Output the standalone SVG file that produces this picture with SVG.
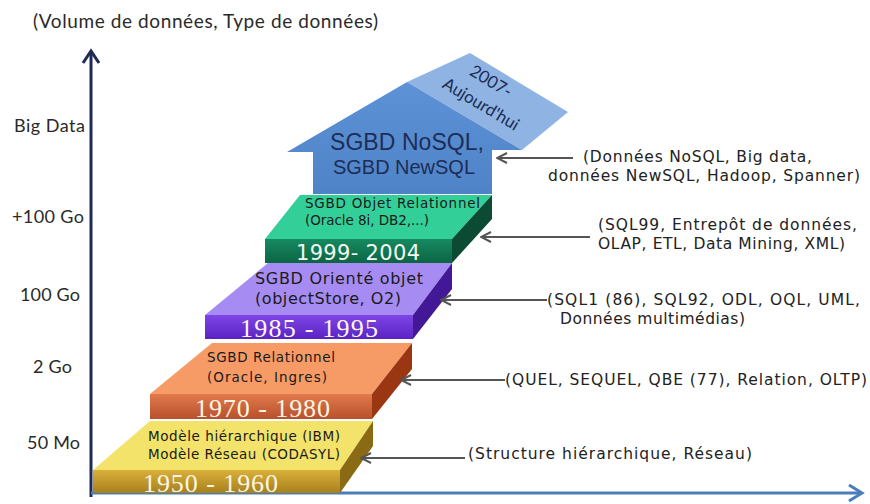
<svg xmlns="http://www.w3.org/2000/svg" width="870" height="504" viewBox="0 0 870 504">
<defs>
<style>
.lbl{font-family:Lato,"Open Sans","Liberation Sans",sans-serif;font-size:18px;fill:#2a2a2a}
.note{font-family:"DejaVu Sans","Liberation Sans",sans-serif;font-size:15.5px;fill:#222}
.top{font-family:"DejaVu Sans","Liberation Sans",sans-serif;font-size:13.5px;fill:#1a1a1a}
.year{font-family:"Liberation Serif","DejaVu Serif",serif;font-size:26px;fill:#fbf6e4}
.conn{stroke:#555;stroke-width:2;fill:none;marker-end:url(#chev)}
</style>
<marker id="chev" viewBox="0 0 12 12" refX="11" refY="6" markerWidth="12" markerHeight="12" markerUnits="userSpaceOnUse" orient="auto">
<path d="M1,1 L11,6 L1,11" fill="none" stroke="#555" stroke-width="2"/>
</marker>
<linearGradient id="gY" x1="0" y1="0" x2="0" y2="1"><stop offset="0" stop-color="#d9b03a"/><stop offset="1" stop-color="#a8801c"/></linearGradient>
<linearGradient id="gO" x1="0" y1="0" x2="0" y2="1"><stop offset="0" stop-color="#e07a4c"/><stop offset="1" stop-color="#b8502c"/></linearGradient>
<linearGradient id="gP" x1="0" y1="0" x2="0" y2="1"><stop offset="0" stop-color="#7f45e6"/><stop offset="1" stop-color="#5a22c4"/></linearGradient>
<linearGradient id="gG" x1="0" y1="0" x2="0" y2="1"><stop offset="0" stop-color="#168a60"/><stop offset="1" stop-color="#0c6444"/></linearGradient>
<linearGradient id="gB" x1="0" y1="0" x2="0" y2="1"><stop offset="0" stop-color="#5d92d6"/><stop offset="1" stop-color="#4f83c8"/></linearGradient>
</defs>
<rect width="870" height="504" fill="#fff"/>

<text class="lbl" x="33" y="28" style="font-size:19px" textLength="345">(Volume de données, Type de données)</text>

<g id="axes">
<line x1="91" y1="497" x2="91" y2="52" stroke="#1f2a55" stroke-width="3"/>
<path d="M83,63 L91,51 L99,63" fill="none" stroke="#1f2a55" stroke-width="3"/>
<line x1="91" y1="493" x2="861" y2="493" stroke="#4a7ebb" stroke-width="3"/>
<path d="M849,485 L862,493 L849,501" fill="none" stroke="#4a7ebb" stroke-width="3"/>
</g>

<g id="ylabels">
<text class="lbl" x="14" y="132" textLength="71">Big Data</text>
<text class="lbl" x="12" y="223" textLength="72">+100 Go</text>
<text class="lbl" x="20" y="301" textLength="60">100 Go</text>
<text class="lbl" x="33" y="373" textLength="39">2 Go</text>
<text class="lbl" x="27" y="449" textLength="53">50 Mo</text>
</g>

<g id="step1950">
<polygon points="93,470 340,470 373,421 150,421" fill="#f3e36a"/>
<rect x="93" y="470" width="247" height="23" fill="url(#gY)"/>
<polygon points="340,470 373,421 373,446 340,493" fill="#8a6a12"/>
<text class="top" x="148" y="441" textLength="192">Modèle hiérarchique (IBM)</text>
<text class="top" x="148" y="459" textLength="192">Modèle Réseau (CODASYL)</text>
<text class="year" x="143" y="492" textLength="135">1950 - 1960</text>
</g>

<g id="step1970">
<polygon points="150,394 372,394 412,343 212,343" fill="#f79b66"/>
<rect x="150" y="394" width="222" height="25" fill="url(#gO)"/>
<polygon points="372,394 412,343 412,369 372,419" fill="#9a3612"/>
<text class="top" x="207" y="362" textLength="128">SGBD Relationnel</text>
<text class="top" x="207" y="382" textLength="120">(Oracle, Ingres)</text>
<text class="year" x="195" y="417" textLength="135">1970 - 1980</text>
</g>

<g id="step1985">
<polygon points="205,315 413,315 452,263 268,263" fill="#a68cf2"/>
<rect x="205" y="315" width="208" height="24" fill="url(#gP)"/>
<polygon points="413,315 452,263 452,289 413,339" fill="#431896"/>
<text class="top" x="255" y="284" style="font-size:16px" textLength="168">SGBD Orienté objet</text>
<text class="top" x="255" y="304" style="font-size:16px" textLength="146">(objectStore, O2)</text>
<text class="year" x="240" y="337" textLength="138">1985 - 1995</text>
</g>

<g id="step1999">
<polygon points="265,239 452,239 492,195 300,195" fill="#33cf99"/>
<rect x="265" y="239" width="187" height="24" fill="url(#gG)"/>
<polygon points="452,239 492,195 492,219 452,263" fill="#0b4a33"/>
<text class="top" x="305" y="208" textLength="175">SGBD Objet Relationnel</text>
<text class="top" x="305" y="225" textLength="124">(Oracle 8i, DB2,...)</text>
<text x="296" y="260" font-family="DejaVu Sans, sans-serif" font-size="21" fill="#f2f8f0" textLength="124">1999- 2004</text>
</g>

<g id="step2007">
<polygon points="407,82 470,53 568,112 522,150" fill="#8fb4e3"/>
<polygon points="313,194 313,152 287,152 407,82 522,150 492,150 492,194" fill="url(#gB)"/>
<text font-family="Liberation Sans,Arial,sans-serif" font-size="23" fill="#1d2d55" x="330" y="150" textLength="154">SGBD NoSQL,</text>
<text font-family="Liberation Sans,Arial,sans-serif" font-size="20" fill="#1d2d55" x="333" y="174" textLength="142">SGBD NewSQL</text>
<text font-family="Lato,Open Sans,sans-serif" font-size="17" fill="#1d2d55" text-anchor="middle" transform="translate(488,86) rotate(31)">2007-</text>
<text font-family="Lato,Open Sans,sans-serif" font-size="17" fill="#1d2d55" text-anchor="middle" transform="translate(478,109) rotate(31)">Aujourd'hui</text>
</g>

<g id="connectors">
<line class="conn" x1="573" y1="158" x2="497" y2="158"/>
<line class="conn" x1="590" y1="237" x2="481" y2="237"/>
<line class="conn" x1="547" y1="300" x2="441" y2="300"/>
<line class="conn" x1="505" y1="380" x2="401" y2="380"/>
<line class="conn" x1="465" y1="458" x2="361" y2="458"/>
</g>

<g id="notes">
<text class="note" x="583" y="162" textLength="229">(Données NoSQL, Big data,</text>
<text class="note" x="548" y="181" textLength="312">données NewSQL, Hadoop, Spanner)</text>
<text class="note" x="598" y="230" textLength="259">(SQL99, Entrepôt de données,</text>
<text class="note" x="598" y="249" textLength="247">OLAP, ETL, Data Mining, XML)</text>
<text class="note" x="547" y="305" textLength="313">(SQL1 (86), SQL92, ODL, OQL, UML,</text>
<text class="note" x="560" y="324" textLength="185">Données multimédias)</text>
<text class="note" x="505" y="385" textLength="362">(QUEL, SEQUEL, QBE (77), Relation, OLTP)</text>
<text class="note" x="468" y="459" textLength="284">(Structure hiérarchique, Réseau)</text>
</g>
</svg>
